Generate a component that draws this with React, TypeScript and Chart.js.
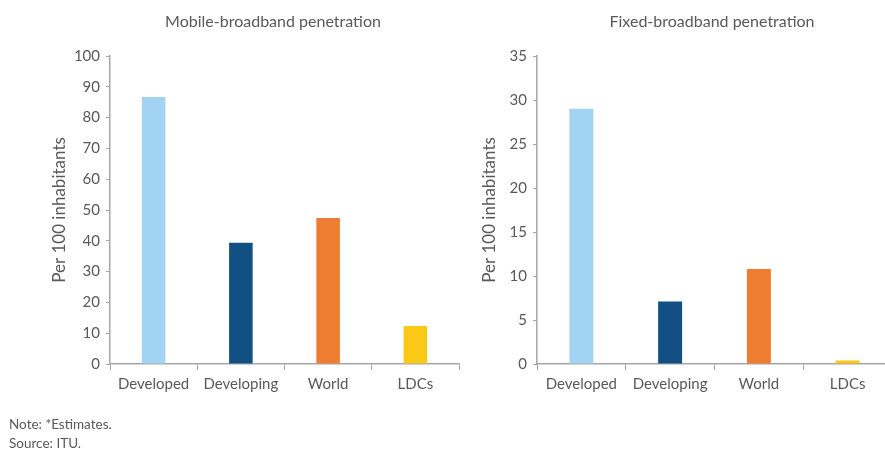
import React, { useEffect, useRef } from "react";
import { Chart, registerables } from "chart.js";

Chart.register(...registerables);

const categories = ["Developed", "Developing", "World", "LDCs"];
const mobileValues = [86.7, 39.4, 47.4, 12.3];
const fixedValues = [29.0, 7.1, 10.8, 0.4];
const barColors = ["#a3d3f3", "#124f82", "#ee7d31", "#fac918"];
const mobileTitle = "Mobile-broadband penetration";
const fixedTitle = "Fixed-broadband penetration";
const yAxisTitle = "Per 100 inhabitants";
const mobileMax = 100;
const mobileStep = 10;
const fixedMax = 35;
const fixedStep = 5;
const noteLines = ["Note: *Estimates.", "Source: ITU."];

const TEXT = "#595959";
const AXIS = "#a6a6a6";
const FONT = "Lato, 'Liberation Sans', sans-serif";

type PanelProps = {
  left: number;
  width: number;
  title: string;
  titleX: number;
  values: number[];
  max: number;
  step: number;
  padLeft: number;
  yWidth: number;
  padRight: number;
};

function Panel(p: PanelProps) {
  const ref = useRef<HTMLCanvasElement | null>(null);
  useEffect(() => {
    if (!ref.current) return;
    const titlePlugin = {
      id: "panelTitle",
      afterDraw(chart: any) {
        const ctx = chart.ctx;
        ctx.save();
        ctx.font = `normal 16px ${FONT}`;
        ctx.fillStyle = TEXT;
        ctx.textAlign = "center";
        ctx.textBaseline = "middle";
        ctx.fillText(p.title, p.titleX, 22);
        ctx.restore();
      },
    };
    const chart = new Chart(ref.current, {
      type: "bar",
      data: {
        labels: categories,
        datasets: [
          {
            data: p.values,
            backgroundColor: barColors,
            borderWidth: 0,
            barPercentage: 0.27,
            categoryPercentage: 1,
          },
        ],
      },
      plugins: [titlePlugin],
      options: {
        responsive: false,
        animation: false,
        layout: { padding: { left: p.padLeft, right: p.padRight, top: 56, bottom: 0 } },
        plugins: {
          legend: { display: false },
          tooltip: { enabled: false },
          title: { display: false },
        },
        scales: {
          x: {
            offset: true,
            grid: {
              display: true,
              offset: true,
              drawOnChartArea: false,
              drawTicks: true,
              tickLength: 6,
              color: AXIS,
            },
            border: { display: true, color: AXIS, width: 1.5 },
            ticks: {
              color: TEXT,
              font: { family: FONT, size: 15 },
              padding: 5,
              maxRotation: 0,
              autoSkip: false,
            },
            afterFit: (scale: any) => {
              scale.height = 89;
            },
          },
          y: {
            min: 0,
            max: p.max,
            grid: {
              display: true,
              drawOnChartArea: false,
              drawTicks: true,
              tickLength: 4,
              color: AXIS,
            },
            border: { display: true, color: AXIS, width: 1.5 },
            ticks: {
              stepSize: p.step,
              color: TEXT,
              font: { family: FONT, size: 15 },
              padding: 6,
            },
            title: {
              display: true,
              text: yAxisTitle,
              color: TEXT,
              font: { family: FONT, size: 17 },
              padding: 0,
            },
            afterFit: (scale: any) => {
              scale.width = p.yWidth;
            },
          },
        },
      },
    });
    return () => chart.destroy();
  }, []);
  return (
    <canvas
      ref={ref}
      width={p.width}
      height={453}
      style={{ position: "absolute", left: p.left, top: 0, width: p.width, height: 453 }}
    />
  );
}

export default function App() {
  return (
    <div
      style={{
        position: "fixed",
        left: 0,
        top: 0,
        width: 885,
        height: 453,
        overflow: "hidden",
        background: "#ffffff",
      }}
    >
      <Panel left={0} width={470} title={mobileTitle} titleX={273} values={mobileValues} max={mobileMax} step={mobileStep} padLeft={49} yWidth={61} padRight={11} />
      <Panel left={440} width={460} title={fixedTitle} titleX={272} values={fixedValues} max={fixedMax} step={fixedStep} padLeft={39} yWidth={58} padRight={8} />
      <div
        style={{
          position: "absolute",
          left: 9,
          top: 415,
          fontFamily: FONT,
          fontSize: 13.5,
          lineHeight: "19px",
          color: TEXT,
        }}
      >
        {noteLines.map((l) => (
          <div key={l}>{l}</div>
        ))}
      </div>
    </div>
  );
}
